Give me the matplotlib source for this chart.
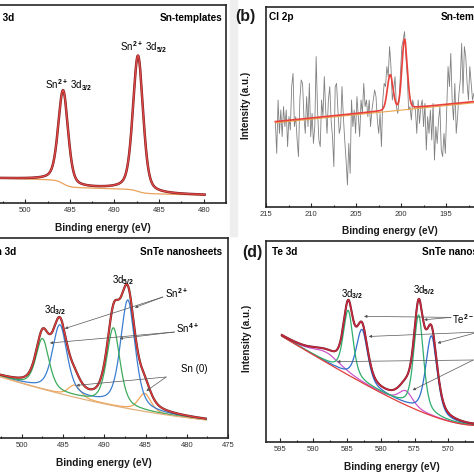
# XPS panels: Sn 3d / Cl 2p of Sn-templates, Sn 3d / Te 3d of SnTe nanosheets
# import modules -------------------------------------------------------------------------------------------------------
import numpy as np
import matplotlib
matplotlib.use('Agg')
from matplotlib import pyplot as plt
from matplotlib.patches import Rectangle
from matplotlib.ticker import MultipleLocator
# ----------------------------------------------------------------------------------------------------------------------

plt.rcParams['font.family'] = ['Liberation Sans', 'DejaVu Sans']
plt.rcParams['mathtext.fontset'] = 'custom'
plt.rcParams['mathtext.rm'] = 'Liberation Sans:bold'
plt.rcParams['mathtext.it'] = 'Liberation Sans:bold'
plt.rcParams['mathtext.bf'] = 'Liberation Sans:bold'

# data (binding energy in eV, intensity in a.u.) -----------------------------------------------------------------------
# (a) Sn 3d, Sn-templates
A_ENERGY_RANGE = [479.9, 505.0]
A_CENTERS = [495.75, 487.36]          # Sn2+ 3d3/2, 3d5/2
A_HEIGHTS = [47.0, 68.5]
A_FWHM = [1.30, 1.35]
A_BG = [4.0, 0.10, 4.0, 2.2]          # level at 480 eV, slope, step 3d3/2, step 3d5/2

# (b) Cl 2p, Sn-templates (raw counts, left to right)
B_ENERGY_RANGE = [213.96, 191.9]
B_COUNTS = [42.7, 26.8, 53.5, 36.8, 48.5, 35.2, 50.2, 40.2, 48.5, 30.2, 45.2, 38.5, 60.2, 66.8, 40.2, 45.2,
            33.5, 25.2, 53.5, 63.5, 61.8, 45.2, 36.8, 55.2, 40.2, 61.8, 35.2, 46.8, 31.8, 40.2, 75.2, 48.5,
            33.5, 30.2, 53.5, 45.2, 65.2, 48.5, 36.8, 53.5, 60.2, 43.5, 35.2, 20.2, 60.2, 61.8, 48.5, 36.8,
            40.2, 60.2, 45.2, 33.5, 23.5, 11.0, 31.8, 16.8, 53.5, 40.2, 48.5, 36.8, 55.2, 45.2, 35.2, 53.5,
            46.8, 61.8, 50.2, 53.5, 45.2, 53.5, 40.2, 48.5, 53.5, 58.5, 55.2, 43.5, 36.8, 46.8, 30.2, 53.5,
            61.8, 60.2, 70.2, 65.2, 80.2, 70.2, 53.5, 58.5, 65.2, 50.2, 46.8, 53.5, 66.8, 80.2, 83.5, 87.7,
            75.2, 65.2, 48.5, 50.2, 43.5, 53.5, 50.2, 48.5, 36.8, 53.5, 41.8, 50.2, 53.5, 40.2, 51.8, 28.5,
            45.2, 36.8, 48.5, 33.5, 51.8, 23.5, 40.2, 31.8, 43.5, 50.2, 28.5, 25.2, 36.8, 26.8, 48.5, 70.2,
            60.2, 76.8, 53.5, 43.5, 61.8, 36.8, 45.2, 56.8, 63.5, 81.8, 56.8, 80.2, 75.2, 61.8, 53.5, 70.2,
            61.8, 53.5, 56.8]
B_CENTERS = [201.2, 199.6]            # Cl 2p1/2, 2p3/2
B_HEIGHTS = [17.5, 34.6]
B_FWHM = [0.75, 0.70]
B_BASE = [42.7, 52.7]                 # fit baseline at both ends of the range

# (c) Sn 3d, SnTe nanosheets: species -> (3d3/2, 3d5/2)
C_ENERGY_RANGE = [477.7, 505.0]
C_SPECIES = ['Sn2+', 'Sn4+', 'Sn0']
C_CENTERS = [[495.40, 487.15], [497.50, 488.90], [493.60, 485.10]]
C_HEIGHTS = [[34.0, 54.0], [25.0, 38.8], [6.0, 9.0]]
C_FWHM = [[2.10, 2.10], [1.90, 1.90], [1.80, 1.80]]
C_BG = [8.0, 0.35, 0.017]             # polynomial in (E - 475 eV)

# (d) Te 3d, SnTe nanosheets: component -> (3d3/2, 3d5/2)
D_ENERGY_RANGE = [565.0, 594.7]
D_COMPONENTS = ['green', 'blue', 'magenta']
D_CENTERS = [[584.85, 574.40], [582.80, 572.50], [588.00, 576.30]]
D_HEIGHTS = [[32.0, 47.5], [26.3, 39.6], [5.0, 7.0]]
D_FWHM = [[1.70, 1.70], [2.00, 2.00], [5.00, 2.50]]
D_BG = [-8.6, 2.05, 16.9, 7.6]        # a + b*u + c*exp(-u/d), u = E - 565 eV
# ----------------------------------------------------------------------------------------------------------------------

W, H = 474, 474
INK = '#262626'


# helpers --------------------------------------------------------------------------------------------------------------
def pseudo_voigt(e, c, h, w, eta=0.4):
    x = (e - c) / w
    return h * ((1 - eta) * np.exp(-4 * np.log(2) * x ** 2) + eta / (1 + 4 * x ** 2))


def area_step(profile):
    cum = np.cumsum(profile)
    return cum / cum[-1]


def make_axes(fig, box, xlim):
    x0, x1, ytop, ybot = box
    ax = fig.add_axes([x0 / W, 1 - ybot / H, (x1 - x0) / W, (ybot - ytop) / H])
    ax.set_xlim(*xlim)
    ax.set_ylim(0, 100)
    ax.xaxis.set_major_locator(MultipleLocator(5))
    ax.xaxis.set_minor_locator(MultipleLocator(2.5))
    ax.tick_params(axis='x', which='both', direction='in', top=False, labelsize=5.5, pad=3,
                   width=0.8, color=INK, labelcolor='#333333')
    ax.tick_params(axis='x', which='major', length=3)
    ax.tick_params(axis='x', which='minor', length=1.8)
    ax.set_yticks([])
    for s in ax.spines.values():
        s.set_linewidth(1.2)
        s.set_color(INK)
    return ax


def arrow(ax, start, end):
    ax.annotate('', xy=end, xytext=start, annotation_clip=False,
                arrowprops=dict(arrowstyle='-|>', color='#555555', lw=0.5, mutation_scale=4,
                                shrinkA=0, shrinkB=0))


def fig_label(fig, x, y, s, **kw):
    fig.text(x / W, 1 - y / H, s, ha='center', va='center', fontweight='bold', color='#1a1a1a', **kw)


def doublets(e, centers, heights, widths, eta):
    out = []
    for cs, hs, ws in zip(centers, heights, widths):
        out.append(sum(pseudo_voigt(e, c, h, w, eta) for c, h, w in zip(cs, hs, ws)))
    return out
# ----------------------------------------------------------------------------------------------------------------------


# panels ---------------------------------------------------------------------------------------------------------------
def panel_a(fig):
    ax = make_axes(fig, (-19.4, 226, 5, 203), (505, 477.5))
    e = np.linspace(*A_ENERGY_RANGE, 1500)
    peaks = [pseudo_voigt(e, c, h, w) for c, h, w in zip(A_CENTERS, A_HEIGHTS, A_FWHM)]
    bg = A_BG[0] + A_BG[1] * (e - 480) + A_BG[2] * area_step(peaks[0]) + A_BG[3] * area_step(peaks[1])
    env = bg + peaks[0] + peaks[1]
    ax.plot(e, bg, color='#eaa25a', lw=0.9)
    ax.plot(e, env, color='#7a1c1c', lw=1.8)
    ax.plot(e, env, color='#e04848', lw=1.0)
    ax.text(0.028, 0.934, 'Sn 3d', transform=ax.transAxes, fontsize=7.2, fontweight='bold', va='center')
    ax.text(0.984, 0.934, 'Sn-templates', transform=ax.transAxes, fontsize=7.2, fontweight='bold',
            va='center', ha='right')
    ax.text(486.7, 78.8, 'Sn$^{2+}$ 3d$_{5/2}$', fontsize=7, ha='center', va='center')
    ax.text(495.1, 59.6, 'Sn$^{2+}$ 3d$_{3/2}$', fontsize=7, ha='center', va='center')
    fig_label(fig, 103, 228, 'Binding energy (eV)', fontsize=7.3)


def panel_b(fig):
    ax = make_axes(fig, (266, 536, 7, 207), (215, 185))
    e_raw = np.linspace(*B_ENERGY_RANGE, len(B_COUNTS))
    ax.plot(e_raw, B_COUNTS, color='#808080', lw=0.6)
    e = np.linspace(190.0, B_ENERGY_RANGE[0], 1500)
    base = np.interp(e, B_ENERGY_RANGE[::-1], B_BASE[::-1])
    fit = base + sum(pseudo_voigt(e, c, h, w, 0.1) for c, h, w in zip(B_CENTERS, B_HEIGHTS, B_FWHM))
    ax.plot(e, base - 0.6, color='#e9a74f', lw=0.8)
    ax.plot(e, fit, color='#e8403a', lw=1.2)
    ax.text(0.012, 0.95, 'Cl 2p', transform=ax.transAxes, fontsize=7.2, fontweight='bold', va='center')
    ax.text(0.648, 0.95, 'Sn-templates', transform=ax.transAxes, fontsize=7.2, fontweight='bold', va='center')
    fig_label(fig, 245, 17, '(b)', fontsize=11.5)
    fig_label(fig, 246, 105, 'Intensity (a.u.)', fontsize=7.1, rotation=90)
    fig_label(fig, 389.5, 231, 'Binding energy (eV)', fontsize=7.3)


def panel_c(fig):
    ax = make_axes(fig, (-19.35, 228, 238, 438), (505, 475))
    e = np.linspace(*C_ENERGY_RANGE, 1500)
    u = e - 475
    bg = C_BG[0] + C_BG[1] * u + C_BG[2] * u ** 2
    comps = doublets(e, C_CENTERS, C_HEIGHTS, C_FWHM, 0.5)
    colors = {'Sn2+': '#3b7fd3', 'Sn4+': '#3dab5c', 'Sn0': '#f2a65a'}
    for name in ['Sn0', 'Sn2+', 'Sn4+']:
        ax.plot(e, bg + comps[C_SPECIES.index(name)], color=colors[name], lw=0.9)
    ax.plot(e, bg, color='#e3b07c', lw=0.9)
    env = bg + sum(comps)
    ax.plot(e, env, color='#5a2a2a', lw=1.6)
    ax.plot(e, env, color='#e03a3a', lw=1.0)
    ax.text(0.035, 0.93, 'Sn 3d', transform=ax.transAxes, fontsize=7.2, fontweight='bold', va='center')
    ax.text(0.976, 0.93, 'SnTe nanosheets', transform=ax.transAxes, fontsize=7.2, fontweight='bold',
            va='center', ha='right')
    ax.text(487.75, 78.8, '3d$_{5/2}$', fontsize=7, ha='center', va='center')
    ax.text(496.0, 63.8, '3d$_{3/2}$', fontsize=7, ha='center', va='center')
    ax.text(482.6, 72.2, 'Sn$^{2+}$', fontsize=7, ha='left', va='center')
    ax.text(481.3, 55.0, 'Sn$^{4+}$', fontsize=7, ha='left', va='center')
    ax.text(480.7, 34.7, 'Sn (0)', fontsize=7, ha='left', va='center')
    for end in [(494.8, 54.7), (486.3, 65.2)]:
        arrow(ax, (482.9, 70.5), end)
    for end in [(496.6, 47.5), (488.15, 49.7)]:
        arrow(ax, (481.5, 53.0), end)
    for end in [(493.4, 26.3), (484.9, 23.5)]:
        arrow(ax, (482.5, 30.5), end)
    fig_label(fig, 104, 463, 'Binding energy (eV)', fontsize=7.3)


def panel_d(fig):
    ax = make_axes(fig, (266.3, 482.0, 241, 442), (597, 565))
    e = np.linspace(*D_ENERGY_RANGE, 1500)
    u = e - 565
    bg = D_BG[0] + D_BG[1] * u + D_BG[2] * np.exp(-u / D_BG[3])
    comps = doublets(e, D_CENTERS, D_HEIGHTS, D_FWHM, 0.5)
    colors = {'green': '#2fae6e', 'blue': '#2f6fd0', 'magenta': '#cc55cc'}
    for name in ['magenta', 'blue', 'green']:
        ax.plot(e, bg + comps[D_COMPONENTS.index(name)], color=colors[name], lw=0.9)
    ax.plot(e, bg, color='#e03c3c', lw=0.9)
    env = bg + sum(comps)
    ax.plot(e, env, color='#6a2030', lw=1.5)
    ax.plot(e, env, color='#c8283c', lw=1.0)
    ax.text(0.026, 0.945, 'Te 3d', transform=ax.transAxes, fontsize=7.2, fontweight='bold', va='center')
    ax.text(0.722, 0.945, 'SnTe nanosheets', transform=ax.transAxes, fontsize=7.2, fontweight='bold',
            va='center')
    ax.text(584.3, 73.6, '3d$_{3/2}$', fontsize=7, ha='center', va='center')
    ax.text(573.6, 75.6, '3d$_{5/2}$', fontsize=7, ha='center', va='center')
    ax.text(569.4, 61.3, 'Te$^{2-}$', fontsize=7, ha='left', va='center')
    ax.text(566.0, 40.6, 'Te$^{4+}$', fontsize=7, ha='left', va='center')
    for end in [(582.5, 62.5), (573.6, 60.8)]:
        arrow(ax, (569.6, 62.0), end)
    for end in [(581.8, 52.5), (571.6, 49.2)]:
        arrow(ax, (565.5, 54.7), end)
    for end in [(586.5, 40.0), (575.3, 25.8)]:
        arrow(ax, (566.3, 40.8), end)
    fig_label(fig, 252, 252, '(d)', fontsize=11.5)
    fig_label(fig, 247, 338, 'Intensity (a.u.)', fontsize=7.1, rotation=90)
    fig_label(fig, 391.7, 467, 'Binding energy (eV)', fontsize=7.3)
# ----------------------------------------------------------------------------------------------------------------------


# main -----------------------------------------------------------------------------------------------------------------
def main():
    fig = plt.figure(figsize=(W / 100, H / 100), dpi=100)
    fig.patches.append(Rectangle((230 / W, 1 - 236 / H), 7 / W, 236 / H, transform=fig.transFigure,
                                 color='#eeeeee', zorder=-1))
    panel_a(fig)
    panel_b(fig)
    panel_c(fig)
    panel_d(fig)
    fig.savefig('out.png', dpi=100)


if __name__ == '__main__':
    main()
# ----------------------------------------------------------------------------------------------------------------------
